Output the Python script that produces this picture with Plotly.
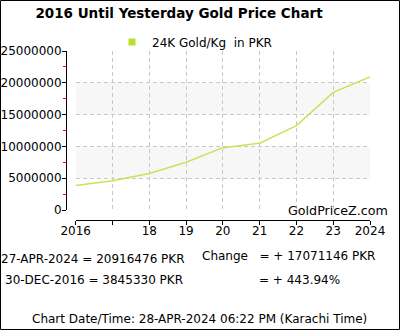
import plotly.graph_objects as go

# ---- data ----
x_labels = ["2016", "", "18", "19", "20", "21", "22", "23", "2024"]
gold_pkr_kg = [3845330, 4590000, 5750000, 7520000, 9800000, 10500000, 13270000, 18500000, 20916476]
series_name = "24K Gold/Kg  in PKR"
y_ticks = [0, 5000000, 10000000, 15000000, 20000000, 25000000]

W, H = 400, 330
L, R, T, B = 66, 30, 51, 110
PW, PH = W - L - R, H - T - B

def px(xp):
    return (xp - L) / PW

def py(yp):
    return (H - B - yp) / PH

FONT = "DejaVu Sans"
line_color = "#c9e25a"

xs = list(range(len(x_labels)))
fig = go.Figure()
fig.add_trace(go.Scatter(x=xs, y=gold_pkr_kg, mode="lines",
                         line=dict(color=line_color, width=1.5),
                         showlegend=False, hoverinfo="skip"))
fig.add_trace(go.Scatter(x=[None], y=[None], mode="markers", name=series_name,
                         marker=dict(symbol="square", size=7, color="#b9e02c"),
                         showlegend=True))

shapes = []
# alternating bands
for lo, hi in [(5000000, 10000000), (15000000, 20000000)]:
    shapes.append(dict(type="rect", xref="x domain", yref="y", x0=0, x1=1, y0=lo, y1=hi,
                       fillcolor="#f7f7f7", line=dict(width=0), layer="below"))
# outer frame
shapes.append(dict(type="rect", xref="paper", yref="paper",
                   x0=px(0.5), x1=px(W - 0.5), y0=py(H - 0.5), y1=py(0.5),
                   line=dict(color="black", width=1)))

dom_x0 = px(75.7)
dom_y0 = py(210)

grid = dict(showgrid=True, gridcolor="#c8c8c8", griddash="4px,3px", gridwidth=1)

fig.update_layout(
    width=W, height=H,
    margin=dict(l=L, r=R, t=T, b=B, autoexpand=False),
    paper_bgcolor="white", plot_bgcolor="rgba(0,0,0,0)",
    font=dict(family=FONT, size=12, color="black"),
    title=dict(text="<b>2016 Until Yesterday Gold Price Chart</b>",
               x=179 / W, xanchor="center", y=1 - 13 / H, yanchor="middle",
               font=dict(family=FONT, size=13.5, color="black")),
    xaxis=dict(domain=[dom_x0, 1], range=[0, len(x_labels) - 1],
               tickvals=xs, ticktext=x_labels, anchor="free", position=0,
               automargin=False,
               showline=True, linecolor="black", linewidth=1,
               ticks="outside", ticklen=4, tickcolor="black", ticklabelstandoff=-4,
               zeroline=False, tickfont=dict(size=12), **grid),
    yaxis=dict(domain=[dom_y0, 1], range=[0, 25000000], tickvals=y_ticks,
               tickformat="d", anchor="free", position=0,
               automargin=False,
               showline=True, linecolor="black", linewidth=1,
               ticks="outside", ticklen=4, tickcolor="black", ticklabelstandoff=-2,
               minor=dict(ticks="outside", ticklen=3, tickcolor="red", dtick=2500000, showgrid=False),
               zeroline=False, tickfont=dict(size=12), **grid),
    legend=dict(orientation="h", x=px(112), y=py(42), xanchor="left", yanchor="middle",
                font=dict(size=12), bgcolor="rgba(0,0,0,0)"),
    shapes=shapes,
    showlegend=True,
)

def ann(text, xp, yp, anchor="left", size=12):
    fig.add_annotation(text=text, xref="paper", yref="paper", x=px(xp), y=py(yp),
                       xanchor=anchor, yanchor="middle", showarrow=False,
                       font=dict(family=FONT, size=size, color="black"))

ann("GoldPriceZ.com", 390, 210, anchor="right", size=12.7)
ann("27-APR-2024 = 20916476 PKR", -1, 259)
ann("Change\u00a0\u00a0 = + 17071146 PKR", 200, 256)
ann("30-DEC-2016 = 3845330 PKR", 3, 280)
ann("= + 443.94%", 257, 280)
ann("Chart Date/Time: 28-APR-2024 06:22 PM (Karachi Time)", 199.5, 319, anchor="center")

fig.write_html("out.html")
